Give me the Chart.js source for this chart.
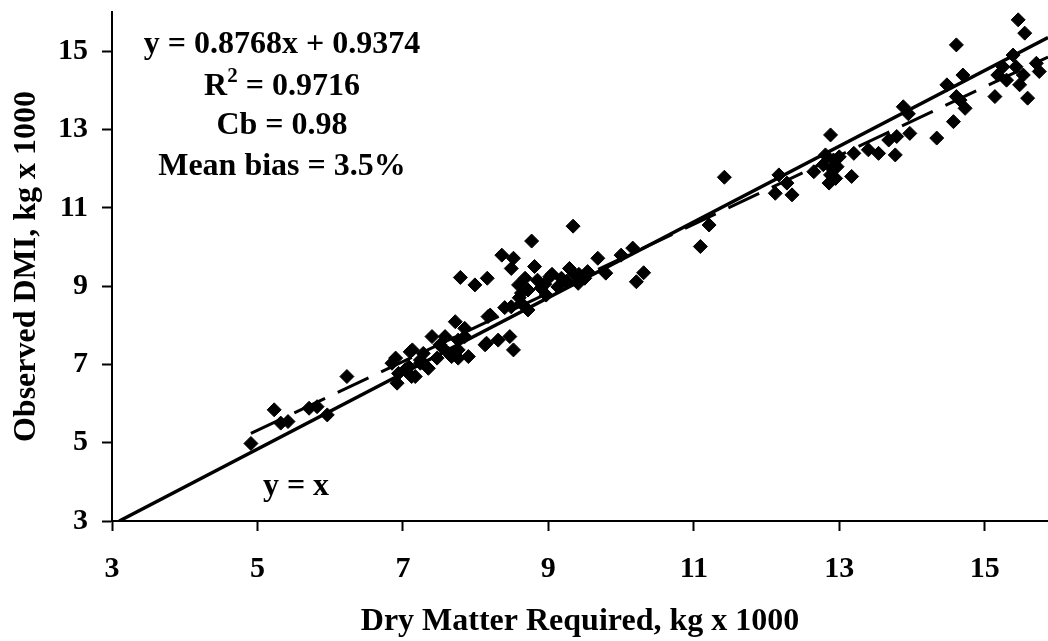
<!DOCTYPE html>
<html><head><meta charset="utf-8">
<script src="https://cdn.jsdelivr.net/npm/chart.js@4.4.0/dist/chart.umd.min.js"></script>
<style>html,body{margin:0;padding:0;background:#fff;overflow:hidden}#wrap{width:1048px;height:641px;position:relative}</style>
</head><body><div id="wrap"><canvas id="c"></canvas></div>
<script>
// Observed vs. required dry matter (kg x 1000)
const dmRequired = [
  4.91,5.23,5.32,5.42,5.71,5.82,5.96,6.23,
  6.90,6.92,7.03,7.12,7.10,7.24,7.35,7.40,7.53,7.72,7.76,7.90,7.85,7.63,8.17,8.15,8.31,8.47,8.52,8.49,8.63,
  7.85,7.76,7.58,7.51,7.67,7.28,7.13,6.85,6.94,7.08,7.17,7.24,7.47,7.76,8.13,8.40,8.97,
  7.79,7.99,8.16,8.36,8.52,8.49,8.77,9.34,9.29,9.41,9.02,8.81,8.59,9.13,9.54,8.20,8.63,8.72,
  9.68,9.79,10.00,10.16,10.21,10.31,11.09,11.21,11.42,
  8.72,8.85,8.95,9.05,9.18,9.25,8.68,8.90,9.42,8.60,9.50,9.35,
  12.17,12.12,12.35,12.28,12.88,12.81,12.65,12.88,12.92,12.86,12.97,13.17,13.20,13.40,13.54,13.77,13.68,13.97,13.88,13.79,13.95,14.34,12.90,12.95,13.00,12.78,
  14.57,14.73,14.66,14.48,14.70,14.61,14.61,15.46,15.55,15.39,15.25,15.18,15.43,15.53,15.48,15.30,15.14,15.59,15.71,15.75
];
const dmiObserved = [
  4.98,5.84,5.50,5.54,5.88,5.92,5.71,6.69,
  7.16,6.52,6.86,6.69,7.32,7.03,6.90,7.71,7.45,8.09,7.16,7.20,7.71,7.28,8.22,7.54,7.62,7.71,7.37,8.47,8.82,
  7.92,7.62,7.71,7.50,7.20,7.28,7.37,7.03,6.77,6.94,6.69,7.11,7.16,7.37,7.50,8.45,8.77,
  9.22,9.03,9.20,9.79,9.71,9.45,10.15,10.53,9.45,9.07,9.24,9.50,9.03,8.98,9.37,8.26,8.56,8.39,
  9.71,9.33,9.79,9.97,9.11,9.34,10.01,10.56,11.78,
  8.90,9.15,9.05,9.30,9.20,9.12,9.20,8.95,9.30,8.70,9.20,9.30,
  11.84,11.37,11.33,11.63,12.86,12.35,11.92,11.84,12.22,11.63,12.05,11.80,12.39,12.48,12.39,12.35,12.73,12.90,13.58,12.82,13.40,12.78,12.00,11.75,12.30,12.10,
  13.20,13.54,13.75,14.14,14.39,15.16,13.84,15.80,15.46,14.90,14.60,14.39,14.60,14.39,14.14,14.26,13.84,13.80,14.69,14.48
];
const xTickValues = [3, 5, 7, 9, 11, 13, 15];
const yTickValues = [3, 5, 7, 9, 11, 13, 15];
const xRange = [3, 15.87];
const yRange = [3, 16];
// reference line labelled "y = x", as drawn in the figure
const identityX = [3.1, 15.87];
const identityY = [3.0, 15.35];
// fitted line y = 0.8768x + 0.9374 over the data range
const regressionX = [4.91, 15.87];
const regressionY = [5.24, 14.85];
const xTitle = 'Dry Matter Required, kg x 1000';
const yTitle = 'Observed DMI, kg x 1000';
const eqLine = 'y = 0.8768x + 0.9374';
const r2Value = ' = 0.9716';
const cbLine = 'Cb = 0.98';
const biasLine = 'Mean bias = 3.5%';
const identityLabel = 'y = x';

const FONT = "'Liberation Serif', 'Times New Roman', serif";

const textPlugin = {
  id: 'annText',
  afterDraw(chart) {
    const ctx = chart.ctx;
    ctx.save();
    ctx.fillStyle = '#000';
    ctx.textBaseline = 'alphabetic';
    const big = 'bold 32px ' + FONT;
    const small = 'bold 21px ' + FONT;
    const cx = 282;
    ctx.font = big;
    ctx.textAlign = 'center';
    ctx.fillText(eqLine, cx, 53);
    ctx.textAlign = 'left';
    ctx.font = big; const wR = ctx.measureText('R').width;
    ctx.font = small; const w2 = ctx.measureText('2').width;
    ctx.font = big; const wRest = ctx.measureText(r2Value).width;
    const x0 = cx - (wR + w2 + wRest) / 2;
    ctx.font = big; ctx.fillText('R', x0, 95);
    ctx.font = small; ctx.fillText('2', x0 + wR, 82);
    ctx.font = big; ctx.fillText(r2Value, x0 + wR + w2, 95);
    ctx.textAlign = 'center';
    ctx.fillText(cbLine, cx, 134);
    ctx.fillText(biasLine, cx, 175);
    ctx.fillText(identityLabel, 296, 495);
    ctx.restore();
  }
};

const pts = dmRequired.map((x, i) => ({x: x, y: dmiObserved[i]}));

new Chart(document.getElementById('c'), {
  type: 'scatter',
  data: {
    datasets: [
      {
        label: 'y = x',
        data: identityX.map((x, i) => ({x: x, y: identityY[i]})),
        showLine: true, borderColor: '#000', borderWidth: 3.5,
        pointRadius: 0, fill: false, order: 2
      },
      {
        label: 'Regression',
        data: regressionX.map((x, i) => ({x: x, y: regressionY[i]})),
        showLine: true, borderColor: '#000', borderWidth: 3,
        borderDash: [34, 14], pointRadius: 0, fill: false, order: 1
      },
      {
        label: 'Observed',
        data: pts,
        pointStyle: 'rectRot', pointRadius: 7,
        backgroundColor: '#000', borderColor: '#000', borderWidth: 1,
        order: 0
      }
    ]
  },
  options: {
    responsive: true, maintainAspectRatio: false, animation: false,
    devicePixelRatio: 1,
    layout: {autoPadding: false, padding: {top: 12, right: 0, left: 0, bottom: 0}},
    plugins: {legend: {display: false}, tooltip: {enabled: false}},
    scales: {
      x: {
        type: 'linear', min: xRange[0], max: xRange[1],
        afterBuildTicks: s => { s.ticks = xTickValues.map(v => ({value: v})); },
        afterFit: s => { s.height = 120; s.paddingLeft = 0; s.paddingRight = 0; },
        grid: {drawOnChartArea: false, tickLength: 10, tickWidth: 2, tickColor: '#000'},
        border: {display: true, color: '#000', width: 2},
        ticks: {color: '#000', padding: 20, maxRotation: 0, autoSkip: false,
          font: {family: FONT, size: 30, weight: 'bold'}},
        title: {display: true, text: xTitle, color: '#000', padding: {top: 0, bottom: 0},
          font: {family: FONT, size: 32, weight: 'bold', lineHeight: 1.2}}
      },
      y: {
        type: 'linear', min: yRange[0], max: yRange[1],
        afterBuildTicks: s => { s.ticks = yTickValues.map(v => ({value: v})); },
        afterFit: s => { s.width = 112; s.paddingTop = 0; s.paddingBottom = 0; },
        grid: {drawOnChartArea: false, tickLength: 10, tickWidth: 2, tickColor: '#000'},
        border: {display: true, color: '#000', width: 2},
        ticks: {color: '#000', padding: 14, autoSkip: false,
          font: {family: FONT, size: 30, weight: 'bold'}},
        title: {display: true, text: yTitle, color: '#000', padding: {top: 8, bottom: 0},
          font: {family: FONT, size: 32, weight: 'bold', lineHeight: 1.2}}
      }
    }
  },
  plugins: [textPlugin]
});
</script></body></html>
